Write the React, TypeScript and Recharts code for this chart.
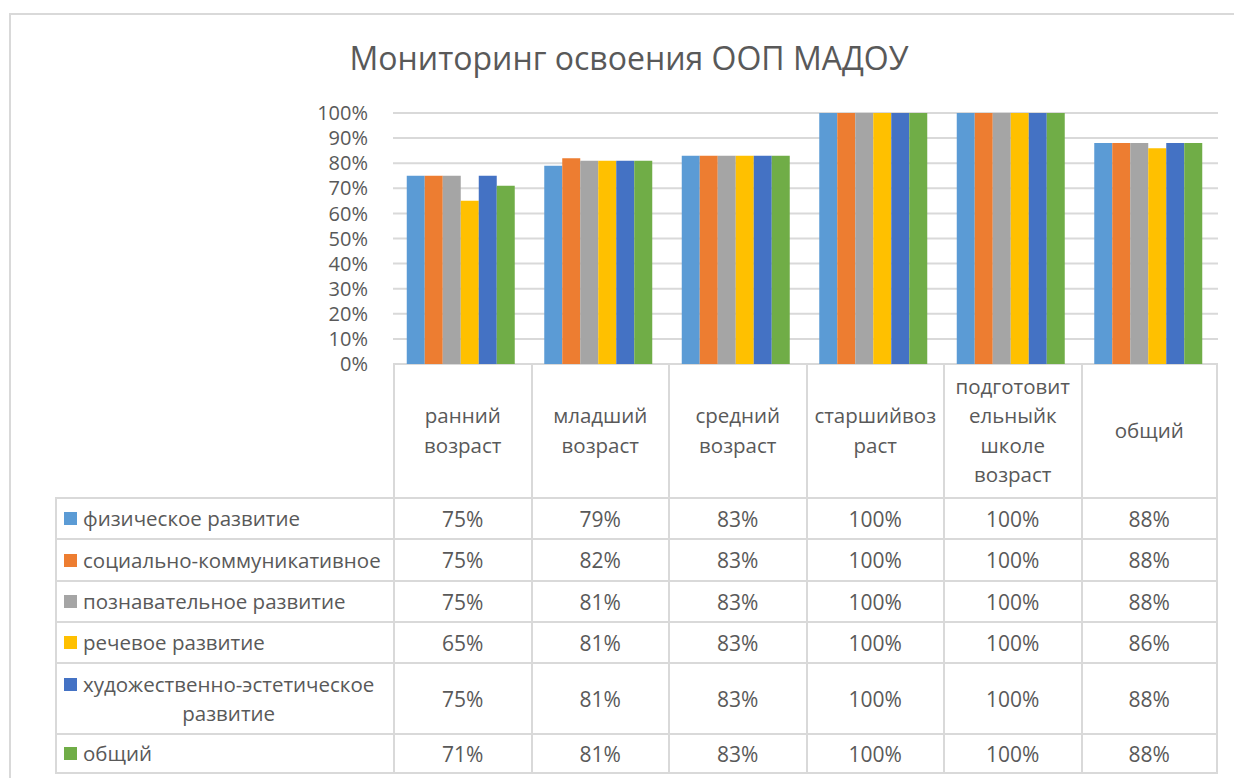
import { BarChart, Bar, YAxis, XAxis, CartesianGrid } from 'recharts';

const categories = [
  'ранний возраст',
  'младший возраст',
  'средний возраст',
  'старшийвозраст',
  'подготовительныйк школе возраст',
  'общий',
];
// how Excel wrapped the category labels in the table header
const categoryLines = [
  ['ранний', 'возраст'],
  ['младший', 'возраст'],
  ['средний', 'возраст'],
  ['старшийвоз', 'раст'],
  ['подготовит', 'ельныйк', 'школе', 'возраст'],
  ['общий'],
];

const physical = [0.75, 0.79, 0.83, 1, 1, 0.88];
const social = [0.75, 0.82, 0.83, 1, 1, 0.88];
const cognitive = [0.75, 0.81, 0.83, 1, 1, 0.88];
const speech = [0.65, 0.81, 0.83, 1, 1, 0.86];
const artistic = [0.75, 0.81, 0.83, 1, 1, 0.88];
const overall = [0.71, 0.81, 0.83, 1, 1, 0.88];

const yTicks = [0, 0.1, 0.2, 0.3, 0.4, 0.5, 0.6, 0.7, 0.8, 0.9, 1];

const series = [
  { key: 'physical', name: 'физическое развитие', lines: ['физическое развитие'], color: '#5B9BD5', values: physical },
  { key: 'social', name: 'социально-коммуникативное', lines: ['социально-коммуникативное'], color: '#ED7D31', values: social },
  { key: 'cognitive', name: 'познавательное развитие', lines: ['познавательное развитие'], color: '#A5A5A5', values: cognitive },
  { key: 'speech', name: 'речевое развитие', lines: ['речевое развитие'], color: '#FFC000', values: speech },
  { key: 'artistic', name: 'художественно-эстетическое развитие', lines: ['художественно-эстетическое', 'развитие'], color: '#4472C4', values: artistic },
  { key: 'overall', name: 'общий', lines: ['общий'], color: '#70AD47', values: overall },
];

const data = categories.map((name, i) => {
  const row: Record<string, string | number> = { name };
  series.forEach((s) => { row[s.key] = s.values[i]; });
  return row;
});

const FONT = '"Open Sans", "Noto Sans", sans-serif';
const TEXT = '#595959';
const LINE = '#D9D9D9';

// plot area in page pixels
const PLOT_LEFT = 393;
const PLOT_RIGHT = 1218;
const PLOT_TOP = 113;
const PLOT_BOTTOM = 364;
const Y_AXIS_W = 70;

const TABLE_LEFT = 55;
const HEADER_BOTTOM = 497;
const rowHeights = [41, 42, 41, 41, 71, 41];

const pct = (v: number) => `${Math.round(v * 100)}%`;

function DataTable() {
  const colW = (PLOT_RIGHT - PLOT_LEFT) / categories.length;
  const rowTops: number[] = [];
  let y = HEADER_BOTTOM;
  rowHeights.forEach((h) => { rowTops.push(y); y += h; });
  const cell = { position: 'absolute' as const, display: 'flex', flexDirection: 'column' as const, alignItems: 'center', justifyContent: 'center', boxSizing: 'border-box' as const, textAlign: 'center' as const };

  return (
    <>
      {categoryLines.map((lines, i) => (
        <div
          key={'h' + i}
          style={{
            ...cell,
            left: PLOT_LEFT + i * colW,
            top: PLOT_BOTTOM,
            width: colW,
            height: HEADER_BOTTOM - PLOT_BOTTOM,
            borderLeft: `2px solid ${LINE}`,
            borderRight: i === categories.length - 1 ? `2px solid ${LINE}` : undefined,
            lineHeight: '29.5px',
            fontSize: 20.5,
          }}
        >
          {lines.map((l) => <div key={l}>{l}</div>)}
        </div>
      ))}
      {series.map((s, r) => (
        <div key={s.key}>
          <div
            style={{
              ...cell,
              left: TABLE_LEFT,
              top: rowTops[r],
              width: PLOT_LEFT - TABLE_LEFT,
              height: rowHeights[r],
              borderTop: `2px solid ${LINE}`,
              borderLeft: `2px solid ${LINE}`,
              borderBottom: r === series.length - 1 ? `2px solid ${LINE}` : undefined,
              alignItems: 'flex-start',
              paddingLeft: 7,
              fontSize: 20.5,
              lineHeight: '29px',
            }}
          >
            <div style={{ display: 'flex', alignItems: 'flex-start' }}>
              <div style={{ width: 13, height: 13, background: s.color, marginTop: 8, marginRight: 6, flex: 'none' }} />
              <div style={{ textAlign: 'center', whiteSpace: 'nowrap' }}>
                {s.lines.map((l) => <div key={l}>{l}</div>)}
              </div>
            </div>
          </div>
          {s.values.map((v, i) => (
            <div
              key={i}
              style={{
                ...cell,
                left: PLOT_LEFT + i * colW,
                top: rowTops[r],
                width: colW,
                height: rowHeights[r],
                borderTop: `2px solid ${LINE}`,
                borderLeft: `2px solid ${LINE}`,
                borderRight: i === categories.length - 1 ? `2px solid ${LINE}` : undefined,
                borderBottom: r === series.length - 1 ? `2px solid ${LINE}` : undefined,
                fontSize: 21,
              }}
            >
              {pct(v)}
            </div>
          ))}
        </div>
      ))}
    </>
  );
}

export default function App() {
  return (
    <div style={{ position: 'absolute', left: 0, top: 0, width: 1234, height: 778, overflow: 'hidden', background: '#fff', fontFamily: FONT, color: TEXT }}>
      <div style={{ position: 'absolute', left: 9, top: 13, width: 1260, height: 800, border: `2px solid ${LINE}` }} />
      <div style={{ position: 'absolute', left: 0, top: 36, width: 1258, textAlign: 'center', fontSize: 32 }}>
        Мониторинг освоения ООП МАДОУ
      </div>
      <div style={{ position: 'absolute', left: 0, top: 0 }}>
        <BarChart
          width={1234}
          height={PLOT_BOTTOM + 24}
          data={data}
          margin={{ top: PLOT_TOP, right: 1234 - PLOT_RIGHT, bottom: 24, left: PLOT_LEFT - Y_AXIS_W }}
          barCategoryGap="10%"
          barGap={0}
        >
          <CartesianGrid vertical={false} stroke={LINE} strokeWidth={2} />
          <XAxis dataKey="name" hide />
          <YAxis
            width={Y_AXIS_W}
            domain={[0, 1]}
            ticks={yTicks}
            tickFormatter={pct}
            axisLine={false}
            tickLine={false}
            tickSize={0}
            tickMargin={25}
            tick={{ fill: TEXT, fontSize: 20, fontFamily: FONT }}
            interval={0}
          />
          {series.map((s) => (
            <Bar key={s.key} dataKey={s.key} name={s.name} fill={s.color} isAnimationActive={false} />
          ))}
        </BarChart>
      </div>
      <DataTable />
    </div>
  );
}
